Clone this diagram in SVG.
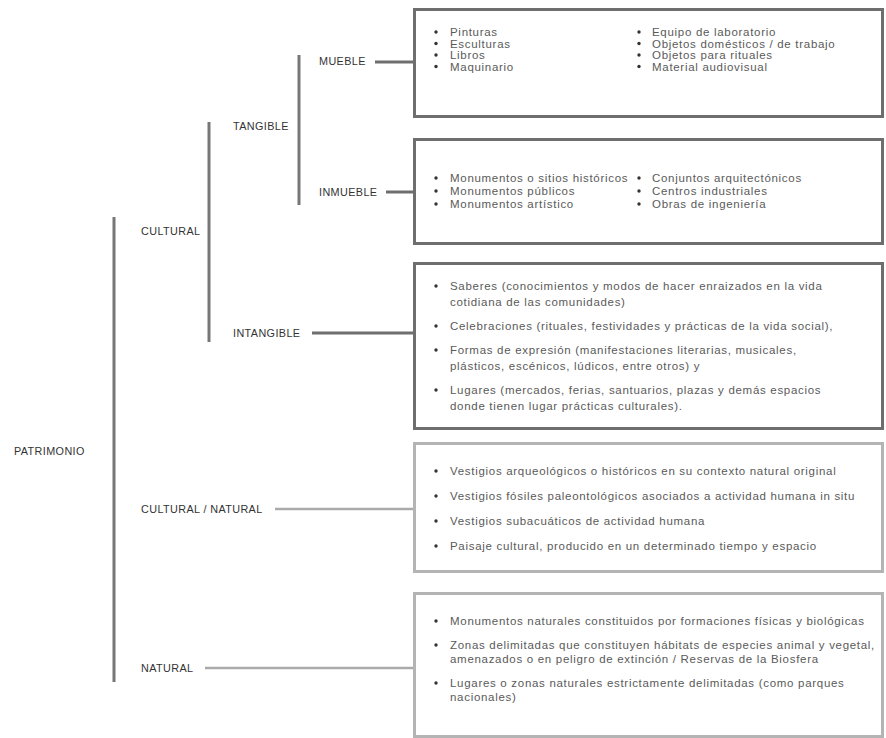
<svg xmlns="http://www.w3.org/2000/svg" width="886" height="738" viewBox="0 0 886 738">
<style>
.lbl{font-family:"Liberation Sans",Arial,sans-serif;font-size:10.8px;fill:#333;letter-spacing:0.4px;}
.t{font-family:"Liberation Sans",Arial,sans-serif;font-size:11.5px;fill:#5a5a5a;letter-spacing:0.7px;}
.boxd{fill:#fff;stroke:#6e6e6e;stroke-width:3;}
.boxl{fill:#fff;stroke:#b4b4b4;stroke-width:3;}
.vl{stroke:#777;stroke-width:3;fill:none;}
.cd{stroke:#6e6e6e;stroke-width:3;fill:none;}
.cl{stroke:#aaa;stroke-width:2.5;fill:none;}
.b{fill:#333;}
</style>
<rect width="886" height="738" fill="#fff"/>
<g id="connectors">
<line class="vl" x1="114" y1="217" x2="114" y2="682"/>
<line class="vl" x1="209" y1="122" x2="209" y2="342"/>
<line class="vl" x1="299" y1="55" x2="299" y2="205"/>
<line class="cd" x1="375" y1="62" x2="414" y2="62"/>
<line class="cd" x1="386" y1="192" x2="414" y2="192"/>
<line class="cd" x1="312" y1="333" x2="414" y2="333"/>
<line class="cl" x1="275" y1="509" x2="414" y2="509"/>
<line class="cl" x1="205" y1="668" x2="414" y2="668"/>
</g>
<g id="patrimonio"><text class="lbl" x="14" y="455">PATRIMONIO</text></g>
<g id="cultural"><text class="lbl" x="141" y="235">CULTURAL</text></g>
<g id="tangible"><text class="lbl" x="233" y="130">TANGIBLE</text></g>
<g id="mueble"><text class="lbl" x="319" y="65">MUEBLE</text></g>
<g id="inmueble"><text class="lbl" x="319" y="196">INMUEBLE</text></g>
<g id="intangible"><text class="lbl" x="233" y="337">INTANGIBLE</text></g>
<g id="cultural-natural"><text class="lbl" x="141" y="513">CULTURAL / NATURAL</text></g>
<g id="natural"><text class="lbl" x="141" y="672">NATURAL</text></g>

<g id="box-mueble">
<rect class="boxd" x="414.5" y="9.5" width="468" height="107"/>
<circle class="b" cx="436" cy="32" r="1.7"/><text class="t" x="450" y="36">Pinturas</text>
<circle class="b" cx="436" cy="43.5" r="1.7"/><text class="t" x="450" y="47.5">Esculturas</text>
<circle class="b" cx="436" cy="55" r="1.7"/><text class="t" x="450" y="59">Libros</text>
<circle class="b" cx="436" cy="66.5" r="1.7"/><text class="t" x="450" y="70.5">Maquinario</text>
<circle class="b" cx="639" cy="32" r="1.7"/><text class="t" x="652" y="36">Equipo de laboratorio</text>
<circle class="b" cx="639" cy="43.5" r="1.7"/><text class="t" x="652" y="47.5">Objetos domésticos / de trabajo</text>
<circle class="b" cx="639" cy="55" r="1.7"/><text class="t" x="652" y="59">Objetos para rituales</text>
<circle class="b" cx="639" cy="66.5" r="1.7"/><text class="t" x="652" y="70.5">Material audiovisual</text>
</g>

<g id="box-inmueble">
<rect class="boxd" x="414.5" y="139.5" width="468" height="104"/>
<circle class="b" cx="436" cy="178" r="1.7"/><text class="t" x="450" y="182">Monumentos o sitios históricos</text>
<circle class="b" cx="436" cy="191" r="1.7"/><text class="t" x="450" y="195">Monumentos públicos</text>
<circle class="b" cx="436" cy="204" r="1.7"/><text class="t" x="450" y="208">Monumentos artístico</text>
<circle class="b" cx="639" cy="178" r="1.7"/><text class="t" x="652" y="182">Conjuntos arquitectónicos</text>
<circle class="b" cx="639" cy="191" r="1.7"/><text class="t" x="652" y="195">Centros industriales</text>
<circle class="b" cx="639" cy="204" r="1.7"/><text class="t" x="652" y="208">Obras de ingeniería</text>
</g>

<g id="box-intangible">
<rect class="boxd" x="414.5" y="263.5" width="468" height="165"/>
<circle class="b" cx="436" cy="286" r="1.7"/><text class="t" x="450" y="290">Saberes (conocimientos y modos de hacer enraizados en la vida</text>
<text class="t" x="450" y="306">cotidiana de las comunidades)</text>
<circle class="b" cx="436" cy="326" r="1.7"/><text class="t" x="450" y="330">Celebraciones (rituales, festividades y prácticas de la vida social),</text>
<circle class="b" cx="436" cy="350" r="1.7"/><text class="t" x="450" y="354">Formas de expresión (manifestaciones literarias, musicales,</text>
<text class="t" x="450" y="370">plásticos, escénicos, lúdicos, entre otros) y</text>
<circle class="b" cx="436" cy="390" r="1.7"/><text class="t" x="450" y="394">Lugares (mercados, ferias, santuarios, plazas y demás espacios</text>
<text class="t" x="450" y="410">donde tienen lugar prácticas culturales).</text>
</g>

<g id="box-cultural-natural">
<rect class="boxl" x="414.5" y="443.5" width="468" height="128"/>
<circle class="b" cx="436" cy="471" r="1.7"/><text class="t" x="450" y="475">Vestigios arqueológicos o históricos en su contexto natural original</text>
<circle class="b" cx="436" cy="496" r="1.7"/><text class="t" x="450" y="500">Vestigios fósiles paleontológicos asociados a actividad humana in situ</text>
<circle class="b" cx="436" cy="521" r="1.7"/><text class="t" x="450" y="525">Vestigios subacuáticos de actividad humana</text>
<circle class="b" cx="436" cy="546" r="1.7"/><text class="t" x="450" y="550">Paisaje cultural, producido en un determinado tiempo y espacio</text>
</g>

<g id="box-natural">
<rect class="boxl" x="414.5" y="593.5" width="468" height="143"/>
<circle class="b" cx="436" cy="621" r="1.7"/><text class="t" x="450" y="625">Monumentos naturales constituidos por formaciones físicas y biológicas</text>
<circle class="b" cx="436" cy="645" r="1.7"/><text class="t" x="450" y="649">Zonas delimitadas que constituyen hábitats de especies animal y vegetal,</text>
<text class="t" x="450" y="663">amenazados o en peligro de extinción / Reservas de la Biosfera</text>
<circle class="b" cx="436" cy="683" r="1.7"/><text class="t" x="450" y="687">Lugares o zonas naturales estrictamente delimitadas (como parques</text>
<text class="t" x="450" y="701">nacionales)</text>
</g>
</svg>
